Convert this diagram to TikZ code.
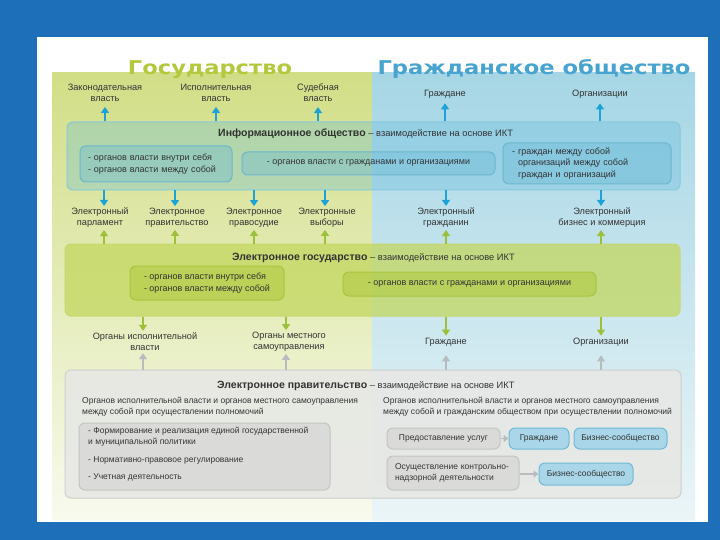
\documentclass[tikz,border=0pt]{standalone}
\usepackage{fontspec}
\setmainfont{Liberation Sans}
\newfontfamily\titlefont[FakeStretch=1.19]{DejaVu Sans}
\usetikzlibrary{arrows.meta}
\definecolor{bgblue}{HTML}{1C6FB8}
\definecolor{greentop}{HTML}{D2DE86}
\definecolor{greenbot}{HTML}{F8FAEE}
\definecolor{bluetop}{HTML}{A6D6E5}
\definecolor{bluebot}{HTML}{EBF5F8}
\definecolor{titlegreen}{HTML}{B5C83C}
\definecolor{titleblue}{HTML}{47A3D0}
\definecolor{arrblue}{HTML}{1BA2D6}
\definecolor{arrgreen}{HTML}{9DC03A}
\definecolor{arrgrey}{HTML}{B8BCC1}
\definecolor{txt}{HTML}{333333}
\definecolor{infofill}{HTML}{5BB8DD}
\definecolor{infoline}{HTML}{86C8DC}
\definecolor{infosub}{HTML}{66B8D4}
\definecolor{infosubline}{HTML}{6CB6CF}
\definecolor{esfill}{HTML}{C3D75F}
\definecolor{esline}{HTML}{C6D86C}
\definecolor{essub}{HTML}{B1CB45}
\definecolor{essubline}{HTML}{A9C43E}
\definecolor{egfill}{HTML}{E7E8E5}
\definecolor{egline}{HTML}{CDD0CD}
\definecolor{egsub}{HTML}{DADBD9}
\definecolor{egsubline}{HTML}{C2C5C2}
\definecolor{bsfill}{HTML}{A9D7E9}
\definecolor{bsline}{HTML}{6DB9D6}
\tikzset{
  small/.style={font=\fontsize{9}{11.5}\selectfont, text=txt},
  egsmall/.style={font=\fontsize{8.5}{10.5}\selectfont, text=txt},
  lbl/.style={font=\fontsize{9.2}{11}\selectfont, text=txt, align=center, inner sep=1pt},
  bigbox/.style={rounded corners=6pt, line width=1pt, inner sep=0pt},
  subbox/.style={rounded corners=6pt, line width=1pt, small, text opacity=1},
  egbox/.style={rounded corners=6pt, line width=1pt, egsmall, text opacity=1},
  barrow/.style={draw=arrblue, line width=1.3pt, -{Triangle[width=8pt,length=6pt]}},
  garrow/.style={draw=arrgreen, line width=1.3pt, -{Triangle[width=8pt,length=6pt]}},
  grarrow/.style={draw=arrgrey, line width=1.3pt, -{Triangle[width=8pt,length=6pt]}},
  boxtitle/.style={text=txt, anchor=west, inner sep=0pt},
}
\newcommand{\boxhead}[1]{{\fontsize{10.5}{12}\selectfont\bfseries #1} {\fontsize{9.3}{11}\selectfont – взаимодействие на основе ИКТ}}
\begin{document}
\begin{tikzpicture}[x=1pt,y=-1pt]
\useasboundingbox (0,0) rectangle (720,540);
\fill[bgblue] (0,0) rectangle (720,540);
\fill[white] (37,37) rectangle (708,522);
\shade[top color=greentop, bottom color=greenbot] (52,73) rectangle (372,520);
\shade[top color=bluetop, bottom color=bluebot] (372,73) rectangle (695,520);

% titles
\node[anchor=base, text=titlegreen, font=\titlefont\bfseries\fontsize{19}{20}\selectfont, inner sep=0pt] (tgos) at (210,75) {Государство};
\node[anchor=base, text=titleblue, font=\titlefont\bfseries\fontsize{19}{20}\selectfont, inner sep=0pt] (tgr) at (534,75) {Гражданское общество};

% top labels
\node[lbl] (zak) at (105,93) {Законодательная\\власть};
\node[lbl] (isp) at (216,93) {Исполнительная\\власть};
\node[lbl] (sud) at (318,93) {Судебная\\власть};
\node[lbl] (grt) at (445,94) {Граждане};
\node[lbl] (ort) at (600,94) {Организации};

% information society
\node[bigbox, draw=infoline, fill=infofill, fill opacity=0.3, minimum width=613pt, minimum height=68pt] (info) at (373.5,156) {};
\node[boxtitle] (infot) at (218,134) {\boxhead{Информационное общество}};
\node[subbox, draw=infosubline, fill=infosub, fill opacity=0.35, minimum width=152pt, minimum height=36pt, text width=136pt, align=left] (is1) at (156,164) {- органов власти внутри себя\\- органов власти между собой};
\node[subbox, draw=infosubline, fill=infosub, fill opacity=0.35, minimum width=253pt, minimum height=23pt] (is2) at (368.5,163.5) {- органов власти с гражданами и организациями};
\node[subbox, draw=infosubline, fill=infosub, fill opacity=0.35, minimum width=168pt, minimum height=41pt, text width=150pt, align=left] (is3) at (587,163.5) {- граждан между собой\\\ \ организаций между собой\\\ \ граждан и организаций};

\foreach \n in {zak,isp,sud,grt,ort}
  \draw[barrow] (info.north -| \n.south) -- ([yshift=-4pt]\n.south);

% electronic row
\node[lbl] (epar) at (100,218) {Электронный\\парламент};
\node[lbl] (epr) at (177,218) {Электронное\\правительство};
\node[lbl] (esud) at (254,218) {Электронное\\правосудие};
\node[lbl] (evyb) at (327,218) {Электронные\\выборы};
\node[lbl] (egra) at (446,218) {Электронный\\гражданин};
\node[lbl] (ebiz) at (602,218) {Электронный\\бизнес и коммерция};
\coordinate (c1) at (104,0);
\coordinate (c2) at (175,0);
\coordinate (c3) at (254,0);
\coordinate (c4) at (325,0);
\coordinate (c5) at (446,0);
\coordinate (c6) at (601,0);

% electronic state
\node[bigbox, draw=esline, fill=esfill, fill opacity=0.75, minimum width=615pt, minimum height=72pt] (es) at (372.5,280) {};
\node[boxtitle] (est) at (232,258) {\boxhead{Электронное государство}};
\node[subbox, draw=essubline, fill=essub, fill opacity=0.6, minimum width=154pt, minimum height=34pt, align=left] (es1) at (207,283) {- органов власти внутри себя\\- органов власти между собой};
\node[subbox, draw=essubline, fill=essub, fill opacity=0.6, minimum width=253pt, minimum height=24pt] (es2) at (469.5,284) {- органов власти с гражданами и организациями};

\draw[barrow] (info.south -| c1) -- ([yshift=1pt]epar.north -| c1);
\draw[barrow] (info.south -| c2) -- ([yshift=1pt]epr.north -| c2);
\draw[barrow] (info.south -| c3) -- ([yshift=1pt]esud.north -| c3);
\draw[barrow] (info.south -| c4) -- ([yshift=1pt]evyb.north -| c4);
\draw[barrow] (info.south -| c5) -- ([yshift=1pt]egra.north -| c5);
\draw[barrow] (info.south -| c6) -- ([yshift=1pt]ebiz.north -| c6);
\draw[garrow] (es.north -| c1) -- ([yshift=-1pt]epar.south -| c1);
\draw[garrow] (es.north -| c2) -- ([yshift=-1pt]epr.south -| c2);
\draw[garrow] (es.north -| c3) -- ([yshift=-1pt]esud.south -| c3);
\draw[garrow] (es.north -| c4) -- ([yshift=-1pt]evyb.south -| c4);
\draw[garrow] (es.north -| c5) -- ([yshift=-1pt]egra.south -| c5);
\draw[garrow] (es.north -| c6) -- ([yshift=-1pt]ebiz.south -| c6);

% bodies row
\node[lbl] (oiv) at (145,342) {Органы исполнительной\\власти};
\node[lbl] (oms) at (289,342) {Органы местного\\самоуправления};
\node[lbl] (grb) at (446,342) {Граждане};
\node[lbl] (orb) at (601,342) {Организации};
\coordinate (d1) at (143,0);
\coordinate (d2) at (286,0);

% electronic government
\node[bigbox, draw=egline, fill=egfill, fill opacity=0.9, minimum width=616pt, minimum height=128pt] (eg) at (373,434) {};
\node[boxtitle] (egt) at (217,386) {\boxhead{Электронное правительство}};

\draw[garrow] (es.south -| d1) -- ([yshift=1pt]oiv.north -| d1);
\draw[garrow] (es.south -| d2) -- ([yshift=1pt]oms.north -| d2);
\draw[garrow] (es.south -| c5) -- ([yshift=1pt]grb.north -| c5);
\draw[garrow] (es.south -| c6) -- ([yshift=1pt]orb.north -| c6);
\draw[grarrow] (eg.north -| d1) -- ([yshift=-1pt]oiv.south -| d1);
\draw[grarrow] (eg.north -| d2) -- ([yshift=-1pt]oms.south -| d2);
\draw[grarrow] (eg.north -| c5) -- ([yshift=-8pt]grb.south -| c5);
\draw[grarrow] (eg.north -| c6) -- ([yshift=-8pt]orb.south -| c6);

\node[egsmall, anchor=north west, align=left, inner sep=0pt] (egl) at (82,397) {Органов исполнительной власти и органов местного самоуправления\\между собой при осуществлении полномочий};
\node[egbox, draw=egsubline, fill=egsub, minimum width=251pt, minimum height=67pt] (egls) at (204.5,456.5) {};
\node[egsmall, anchor=north west, align=left, inner sep=0pt] (egl1) at (88,427) {- Формирование и реализация единой государственной\\и муниципальной политики};
\node[egsmall, anchor=west, inner sep=0pt] (egl2) at (88,460) {- Нормативно-правовое регулирование};
\node[egsmall, anchor=west, inner sep=0pt] (egl3) at (88,477) {- Учетная деятельность};

\node[egsmall, anchor=north west, align=left, inner sep=0pt] (egr) at (383,397) {Органов исполнительной власти и органов местного самоуправления\\между собой и гражданским обществом при осуществлении полномочий};
\node[egbox, draw=egsubline, fill=egsub, minimum width=113pt, minimum height=21pt] (pu) at (443.5,438.5) {Предоставление услуг};
\node[egbox, draw=bsline, fill=bsfill, minimum width=60pt, minimum height=21pt] (gr2) at (539,438.5) {Граждане};
\node[egbox, draw=bsline, fill=bsfill, minimum width=93pt, minimum height=21pt] (bs1) at (620.5,438.5) {Бизнес-сообщество};
\node[egbox, draw=egsubline, fill=egsub, minimum width=132pt, minimum height=34pt, text width=116pt, align=left] (kn) at (453,473) {Осуществление контрольно-\\надзорной деятельности};
\node[egbox, draw=bsline, fill=bsfill, minimum width=94pt, minimum height=22pt] (bs2) at (586,474) {Бизнес-сообщество};
\draw[draw=arrgrey, line width=1.3pt, -{Triangle[width=7pt,length=5pt]}] (pu.east) -- (gr2.west);
\draw[draw=arrgrey, line width=1.3pt, -{Triangle[width=7pt,length=5pt]}] (kn.east |- bs2) -- (bs2.west);
\end{tikzpicture}
\end{document}
